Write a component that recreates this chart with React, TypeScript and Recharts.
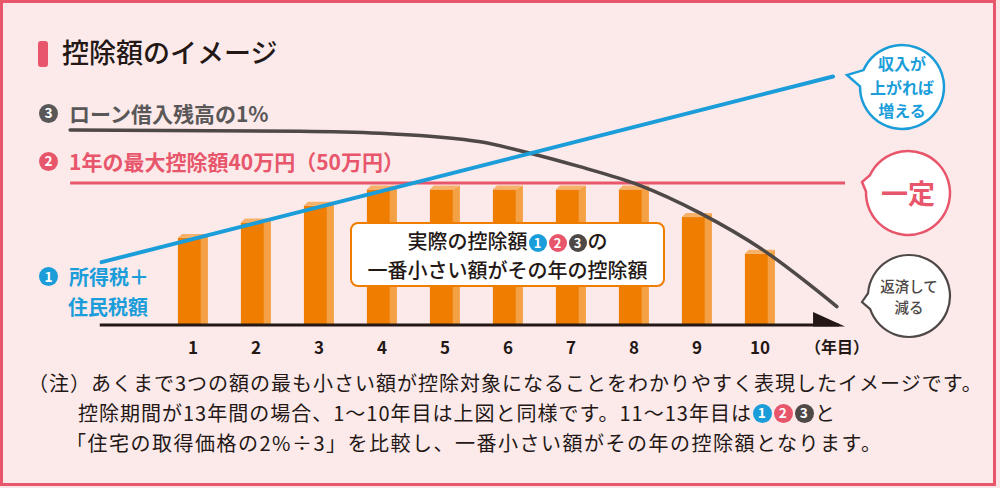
import React from "react";
import { ComposedChart, Bar, Line, XAxis, YAxis, ReferenceLine } from "recharts";

// 控除額のイメージ (years 1-10)
const YEARS = [1, 2, 3, 4, 5, 6, 7, 8, 9, 10];
const DEDUCTION = [24.5, 28.9, 33.6, 38.2, 38.2, 38.2, 38.2, 38.2, 30.4, 20.1];

// ① 所得税+住民税額
const TAX_X = [-0.45, 11.16];
const TAX_VALUES = [17.7, 70.0];

// ② 1年の最大控除額
const CAP_X = [-0.95, 11.35];
const CAP_VALUES = [40, 40];

// ③ ローン借入残高の1%
const LOAN_X = [-0.95, 2.7, 3.97, 5.56, 6.35, 7.14, 8.05, 9.05, 10.05, 11.22];
const LOAN_VALUES = [54.9, 54.6, 54.0, 51.6, 48.4, 44.6, 39.6, 31.5, 21.1, 5.2];

const AXIS_X = [-0.48, 11.35];

const NOTES = [
  "（注）あくまで3つの額の最も小さい額が控除対象になることをわかりやすく表現したイメージです。",
  "控除期間が13年間の場合、1～10年目は上図と同様です。11～13年目は",
  "「住宅の取得価格の2%÷3」を比較し、一番小さい額がその年の控除額となります。",
];

const FONT = "'Noto Sans CJK JP', 'Noto Sans', sans-serif";
const BLUE = "#1a9dd9";
const RED = "#e8566b";
const GRAY = "#4e4846";
const INK = "#231815";

const barData = YEARS.map((year, i) => ({ year, amount: DEDUCTION[i] }));
const taxData = TAX_X.map((year, i) => ({ year, value: TAX_VALUES[i] }));
const capData = CAP_X.map((year, i) => ({ year, value: CAP_VALUES[i] }));
const loanData = LOAN_X.map((year, i) => ({ year, value: LOAN_VALUES[i] }));

// 3D-looking bar, centred on the slot recharts gives us
const Bar3D = (props: any) => {
  const { x, y, width, height } = props;
  const full = 30;
  const side = 7;
  const lift = 4;
  const fw = full - side;
  const left = x + width / 2 - full / 2;
  return (
    <g>
      <rect x={left} y={y} width={fw} height={height} fill="#ee7d00" />
      <polygon
        points={`${left + fw},${y} ${left + full},${y - lift} ${left + full},${y + height} ${left + fw},${y + height}`}
        fill="#f4a044"
      />
      <polygon
        points={`${left},${y} ${left + fw},${y} ${left + full},${y - lift} ${left + 4},${y - lift}`}
        fill="#f6b26a"
      />
    </g>
  );
};

const AxisArrow = (props: any) => {
  const { x1, y1, x2 } = props;
  return (
    <g>
      <line x1={x1} y1={y1} x2={x2 - 6} y2={y1} stroke={INK} strokeWidth={3} />
      <polygon points={`${x2 - 32},${y1 + 1.5} ${x2 - 32},${y1 - 13} ${x2},${y1 + 1.5}`} fill={INK} />
    </g>
  );
};

const YearTick = (props: any) => {
  const { x, y, payload } = props;
  return (
    <text x={x} y={y} dy={29} textAnchor="middle" fontSize={17} fontWeight={700} fill={INK} fontFamily={FONT}>
      {payload.value}
    </text>
  );
};

const Num = ({ n, color, size = 18 }: { n: number; color: string; size?: number }) => (
  <span
    style={{
      display: "inline-flex",
      alignItems: "center",
      justifyContent: "center",
      width: size,
      height: size,
      borderRadius: "50%",
      background: color,
      color: "#fff",
      fontSize: size * 0.72,
      fontWeight: 700,
      lineHeight: 1,
      margin: "0 1px",
      verticalAlign: "middle",
    }}
  >
    {n}
  </span>
);

function bubblePath(cx: number, cy: number, r: number, tx: number, ty: number, spread: number) {
  const phi = Math.atan2(ty - cy, tx - cx);
  const p1 = [cx + r * Math.cos(phi - spread), cy + r * Math.sin(phi - spread)];
  const p2 = [cx + r * Math.cos(phi + spread), cy + r * Math.sin(phi + spread)];
  return `M${p1[0]},${p1[1]} L${tx},${ty} L${p2[0]},${p2[1]} A${r},${r} 0 1 1 ${p1[0]},${p1[1]} Z`;
}

const abs = (left: number, top: number, extra: React.CSSProperties = {}): React.CSSProperties => ({
  position: "absolute",
  left,
  top,
  fontFamily: FONT,
  whiteSpace: "nowrap",
  ...extra,
});

export default function App() {
  return (
    <div style={{ position: "absolute", left: 0, top: 0, width: 1000, height: 488, background: "#fbe5e7", overflow: "hidden" }}>
      <div
        style={{
          position: "absolute",
          left: 0,
          top: 0,
          width: 996,
          height: 486,
          boxSizing: "border-box",
          border: `3px solid ${RED}`,
          background: "#fce9ea",
        }}
      />
      <div style={{ position: "absolute", left: 0, top: 0 }}>
        <ComposedChart width={1000} height={488} data={barData} margin={{ top: 41, right: 114, left: 67, bottom: 123 }}>
          <XAxis
            type="number"
            dataKey="year"
            domain={[-1, 12]}
            allowDataOverflow
            ticks={YEARS}
            interval={0}
            height={40}
            axisLine={false}
            tickLine={false}
            tickSize={0}
            tickMargin={0}
            tick={<YearTick />}
          />
          <YAxis hide domain={[0, 80]} allowDataOverflow />
          <Bar dataKey="amount" barSize={30} shape={<Bar3D />} isAnimationActive={false} />
          <ReferenceLine
            segment={[
              { x: AXIS_X[0], y: 0 },
              { x: AXIS_X[1], y: 0 },
            ]}
            shape={<AxisArrow />}
          />
          <Line data={capData} dataKey="value" stroke={RED} strokeWidth={3} dot={false} isAnimationActive={false} />
          <Line
            data={loanData}
            dataKey="value"
            type="monotone"
            stroke={GRAY}
            strokeWidth={3.5}
            strokeLinecap="round"
            dot={false}
            isAnimationActive={false}
          />
          <Line
            data={taxData}
            dataKey="value"
            stroke={BLUE}
            strokeWidth={4}
            strokeLinecap="round"
            dot={false}
            isAnimationActive={false}
          />
        </ComposedChart>
      </div>

      <svg width={1000} height={488} style={{ position: "absolute", left: 0, top: 0 }}>
        <path d={bubblePath(902, 87, 42, 847, 75, 0.2)} fill="#fff" stroke={BLUE} strokeWidth={2.5} />
        <path d={bubblePath(908, 193, 42, 862, 182, 0.2)} fill="#fff" stroke={RED} strokeWidth={2.5} />
        <path d={bubblePath(909, 296, 41, 862, 302, 0.2)} fill="#fff" stroke={GRAY} strokeWidth={2.2} />
      </svg>

      {/* title */}
      <div style={{ position: "absolute", left: 38, top: 41, width: 10, height: 26, background: RED, borderRadius: 3 }} />
      <div style={abs(62, 35, { fontSize: 27, lineHeight: "34px", fontWeight: 500, color: INK })}>控除額のイメージ</div>

      {/* series labels */}
      <div style={abs(38, 101, { display: "flex", alignItems: "center", height: 24, fontSize: 21, fontWeight: 700, color: "#595757" })}>
        <Num n={3} color="#595757" size={19} />
        <span style={{ marginLeft: 10 }}>ローン借入残高の1%</span>
      </div>
      <div style={abs(38, 149, { display: "flex", alignItems: "center", height: 24, fontSize: 21, fontWeight: 700, color: RED })}>
        <Num n={2} color={RED} size={19} />
        <span style={{ marginLeft: 10 }}>1年の最大控除額40万円（50万円）</span>
      </div>
      <div style={abs(38, 262, { display: "flex", alignItems: "center", height: 29, fontSize: 20, fontWeight: 700, color: BLUE })}>
        <Num n={1} color={BLUE} size={19} />
        <span style={{ marginLeft: 10 }}>所得税＋</span>
      </div>
      <div style={abs(68, 292, { height: 29, lineHeight: "29px", fontSize: 20, fontWeight: 700, color: BLUE })}>住民税額</div>

      {/* callout */}
      <div
        style={abs(350, 222, {
          width: 315,
          height: 65,
          boxSizing: "border-box",
          border: "2px solid #ef7d00",
          borderRadius: 8,
          background: "#fff",
          display: "flex",
          flexDirection: "column",
          alignItems: "center",
          justifyContent: "center",
          fontSize: 20,
          fontWeight: 500,
          lineHeight: "29px",
          color: INK,
        })}
      >
        <div>
          実際の控除額<Num n={1} color={BLUE} size={18} />
          <Num n={2} color={RED} size={18} />
          <Num n={3} color={GRAY} size={18} />の
        </div>
        <div>一番小さい額がその年の控除額</div>
      </div>

      {/* bubble texts */}
      <div style={abs(852, 52, { width: 100, textAlign: "center", fontSize: 16, lineHeight: "23.5px", fontWeight: 700, color: BLUE })}>
        収入が<br />上がれば<br />増える
      </div>
      <div style={abs(858, 175, { width: 100, textAlign: "center", fontSize: 27, lineHeight: "36px", fontWeight: 700, color: RED })}>
        一定
      </div>
      <div style={abs(859, 275, { width: 100, textAlign: "center", fontSize: 14.5, lineHeight: "21px", fontWeight: 500, color: GRAY })}>
        返済して<br />減る
      </div>

      <div style={abs(805, 334, { fontSize: 16, lineHeight: "24px", fontWeight: 700, color: INK })}>（年目）</div>

      {/* notes */}
      <div style={abs(28, 370, { fontSize: 20, lineHeight: "26px", letterSpacing: 1, color: INK })}>{NOTES[0]}</div>
      <div style={abs(78, 400, { fontSize: 20, lineHeight: "26px", letterSpacing: 1, color: INK, display: "flex", alignItems: "center" })}>
        <span>{NOTES[1]}</span>
        <Num n={1} color={BLUE} size={19} />
        <Num n={2} color={RED} size={19} />
        <Num n={3} color={GRAY} size={19} />
        <span>と</span>
      </div>
      <div style={abs(66, 430, { fontSize: 20, lineHeight: "26px", letterSpacing: 1.5, color: INK })}>{NOTES[2]}</div>
    </div>
  );
}
